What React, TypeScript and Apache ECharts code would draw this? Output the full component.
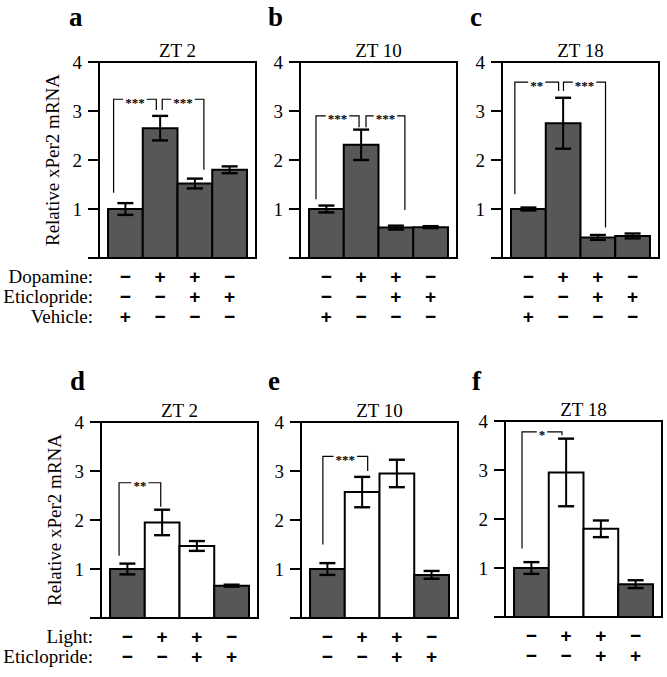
import React, { useEffect, useRef } from "react";
import * as echarts from "echarts";

// ---- data ----
const panelLetters = ["a", "b", "c", "d", "e", "f"];
const panelTitles = ["ZT 2", "ZT 10", "ZT 18", "ZT 2", "ZT 10", "ZT 18"];

const valuesA = [1.0, 2.65, 1.52, 1.8];
const errorsA = [0.12, 0.25, 0.1, 0.07];
const valuesB = [1.0, 2.31, 0.62, 0.63];
const errorsB = [0.07, 0.31, 0.04, 0.02];
const valuesC = [1.0, 2.75, 0.42, 0.45];
const errorsC = [0.03, 0.52, 0.05, 0.05];
const valuesD = [1.0, 1.95, 1.47, 0.66];
const errorsD = [0.11, 0.26, 0.1, 0.02];
const valuesE = [1.0, 2.57, 2.95, 0.88];
const errorsE = [0.12, 0.31, 0.28, 0.08];
const valuesF = [1.0, 2.95, 1.8, 0.67];
const errorsF = [0.12, 0.69, 0.17, 0.08];

// bar fill kinds: "dark" or "open"
const fillsTop = ["dark", "dark", "dark", "dark"];
const fillsBottom = ["dark", "open", "open", "dark"];

// treatment rows
const topRowNames = ["Dopamine:", "Eticlopride:", "Vehicle:"];
const dopamine = ["−", "+", "+", "−"];
const eticlopride = ["−", "−", "+", "+"];
const vehicle = ["+", "−", "−", "−"];
const bottomRowNames = ["Light:", "Eticlopride:"];
const light = ["−", "+", "+", "−"];
const eticlopride2 = ["−", "−", "+", "+"];

// significance brackets: [x left leg, left leg bottom, x right leg, right leg bottom, top]
const bracketsA = [[-0.34, 1.33, 0.89, 3.02, 3.24], [1.06, 3.02, 2.26, 1.8, 3.24]];
const bracketLabelsA = ["***", "***"];
const bracketsB = [[-0.3, 1.2, 0.94, 2.67, 2.9], [1.14, 2.67, 2.26, 0.98, 2.9]];
const bracketLabelsB = ["***", "***"];
const bracketsC = [[-0.39, 1.3, 0.87, 3.41, 3.59], [1.01, 3.41, 2.22, 0.62, 3.59]];
const bracketLabelsC = ["**", "***"];
const bracketsD = [[-0.24, 1.27, 0.96, 2.27, 2.76]];
const bracketLabelsD = ["**"];
const bracketsE = [[-0.13, 1.5, 1.16, 3.0, 3.3]];
const bracketLabelsE = ["***"];
const bracketsF = [[-0.27, 1.4, 0.88, 3.71, 3.78]];
const bracketLabelsF = ["*"];

const yTicks = [0, 4, 1]; // min, max, interval

// ---- layout ----
const GRID_W = 157;
const GRID_H = 196;
const gridLefts = [99, 300, 502, 101, 301, 505];
const gridTops = [62, 62, 62, 422, 422, 421];
const SERIF = '"Liberation Serif", "Times New Roman", serif';

export default function App() {
  const ref = useRef<HTMLDivElement>(null);

  useEffect(() => {
    if (!ref.current) return;
    const chart = echarts.init(ref.current, null, { renderer: "svg" });

    const panelValues = [valuesA, valuesB, valuesC, valuesD, valuesE, valuesF];
    const panelErrors = [errorsA, errorsB, errorsC, errorsD, errorsE, errorsF];
    const panelBrackets = [bracketsA, bracketsB, bracketsC, bracketsD, bracketsE, bracketsF];
    const panelBracketLabels = [
      bracketLabelsA, bracketLabelsB, bracketLabelsC,
      bracketLabelsD, bracketLabelsE, bracketLabelsF,
    ];
    const topRows = [dopamine, eticlopride, vehicle];
    const bottomRows = [light, eticlopride2];

    const grids: any[] = [];
    const xAxes: any[] = [];
    const yAxes: any[] = [];
    const series: any[] = [];

    for (let k = 0; k < 6; k++) {
      const isTop = k < 3;
      grids.push({
        left: gridLefts[k],
        top: gridTops[k],
        width: GRID_W,
        height: GRID_H,
        show: true,
        borderColor: "#000",
        borderWidth: 2,
        backgroundColor: "transparent",
        containLabel: false,
        outerBoundsMode: "none",
      });
      xAxes.push({
        gridIndex: k,
        type: "value",
        min: -0.76,
        max: 3.76,
        position: "top",
        axisLine: { show: false, onZero: false },
        axisTick: { show: false },
        axisLabel: { show: false },
        splitLine: { show: false },
        name: panelTitles[k],
        nameLocation: "middle",
        nameGap: 2,
        nameTextStyle: { fontSize: 19, fontFamily: SERIF, color: "#000" },
      });
      yAxes.push({
        gridIndex: k,
        type: "value",
        min: yTicks[0],
        max: yTicks[1],
        interval: yTicks[2],
        position: "left",
        axisLine: { show: true, onZero: false, lineStyle: { color: "#000", width: 2 } },
        axisTick: { show: true, length: 11, lineStyle: { color: "#000", width: 2 } },
        axisLabel: {
          color: "#000",
          fontSize: 19,
          fontFamily: SERIF,
          margin: 17,
          formatter: (v: number) => (v === 0 ? "" : String(v)),
        },
        splitLine: { show: false },
        name: k === 0 || k === 3 ? "Relative xPer2 mRNA" : "",
        nameLocation: "middle",
        nameGap: 37,
        nameTextStyle: { fontSize: 19, fontFamily: SERIF, color: "#000" },
      });

      const fills = isTop ? fillsTop : fillsBottom;
      const rows = isTop ? topRows : bottomRows;
      const vals = panelValues[k];
      const errs = panelErrors[k];

      series.push({
        type: "custom",
        xAxisIndex: k,
        yAxisIndex: k,
        clip: false,
        data: vals.map((v, i) => [i, v, errs[i]]),
        encode: { x: 0, y: 1 },
        renderItem: (params: any, api: any) => {
          const i = api.value(0);
          const v = api.value(1);
          const e = api.value(2);
          const bl = api.coord([i - 0.5, 0]);
          const tr = api.coord([i + 0.5, v]);
          const et = api.coord([i, v + e]);
          const eb = api.coord([i, Math.max(v - e, 0)]);
          const cx = et[0];
          const fill = fills[i] === "dark" ? "#575757" : "#ffffff";
          const children: any[] = [
            {
              type: "rect",
              shape: { x: bl[0], y: tr[1], width: tr[0] - bl[0], height: bl[1] - tr[1] },
              style: { fill, stroke: "#000", lineWidth: 2 },
            },
            {
              type: "line",
              shape: { x1: cx, y1: et[1], x2: cx, y2: eb[1] },
              style: { stroke: "#000", lineWidth: 2 },
            },
            {
              type: "line",
              shape: { x1: cx - 8, y1: et[1], x2: cx + 8, y2: et[1] },
              style: { stroke: "#000", lineWidth: 2.4 },
            },
            {
              type: "line",
              shape: { x1: cx - 8, y1: eb[1], x2: cx + 8, y2: eb[1] },
              style: { stroke: "#000", lineWidth: 2.4 },
            },
          ];
          rows.forEach((row, r) => {
            children.push({
              type: "text",
              x: cx,
              y: bl[1] + 18.5 + 20 * r,
              style: {
                text: row[i],
                fill: "#000",
                fontSize: 19,
                fontWeight: "bold",
                fontFamily: '"Liberation Sans", Arial, sans-serif',
                lineHeight: 16,
                align: "center",
                verticalAlign: "middle",
              },
            });
          });
          return { type: "group", children };
        },
      });

      const labels = panelBracketLabels[k];
      series.push({
        type: "custom",
        xAxisIndex: k,
        yAxisIndex: k,
        clip: false,
        data: panelBrackets[k],
        encode: { x: [0, 2], y: [1, 3, 4] },
        renderItem: (params: any, api: any) => {
          const x1 = api.value(0);
          const y1 = api.value(1);
          const x2 = api.value(2);
          const y2 = api.value(3);
          const yt = api.value(4);
          const p1 = api.coord([x1, y1]);
          const p2 = api.coord([x1, yt]);
          const p3 = api.coord([x2, yt]);
          const p4 = api.coord([x2, y2]);
          return {
            type: "group",
            children: [
              {
                type: "polyline",
                shape: { points: [p1, p2, p3, p4] },
                style: { stroke: "#000", lineWidth: 1.2, fill: "none" },
              },
              {
                type: "text",
                x: (p2[0] + p3[0]) / 2,
                y: p2[1] + 3,
                style: {
                  text: labels[params.dataIndex],
                  fill: "#000",
                  fontSize: 13,
                  fontWeight: "bold",
                  fontFamily: SERIF,
                  lineHeight: 11,
                  align: "center",
                  verticalAlign: "middle",
                  backgroundColor: "#fff",
                  padding: [0, 2],
                },
              },
            ],
          };
        },
      });
    }

    const graphic: any[] = [];
    const letterPos = [
      [69, 27], [268, 27], [470, 27], [70, 391], [268, 391], [472, 391],
    ];
    panelLetters.forEach((l, k) => {
      graphic.push({
        type: "text",
        x: letterPos[k][0],
        y: letterPos[k][1],
        style: {
          text: l,
          fill: "#000",
          font: "bold 27px " + SERIF,
          align: "left",
          verticalAlign: "bottom",
          lineHeight: 20,
        },
      });
    });
    topRowNames.forEach((name, r) => {
      graphic.push({
        type: "text",
        x: 93,
        y: gridTops[0] + GRID_H + 18.5 + 20 * r,
        style: {
          text: name,
          fill: "#000",
          font: "19px " + SERIF,
          lineHeight: 18,
          align: "right",
          verticalAlign: "middle",
        },
      });
    });
    bottomRowNames.forEach((name, r) => {
      graphic.push({
        type: "text",
        x: 93,
        y: gridTops[3] + GRID_H + 18.5 + 20 * r,
        style: {
          text: name,
          fill: "#000",
          font: "19px " + SERIF,
          lineHeight: 18,
          align: "right",
          verticalAlign: "middle",
        },
      });
    });

    chart.setOption({
      animation: false,
      backgroundColor: "#fff",
      grid: grids,
      xAxis: xAxes,
      yAxis: yAxes,
      series,
      graphic,
    });

    return () => chart.dispose();
  }, []);

  return (
    <div
      ref={ref}
      style={{ position: "absolute", left: 0, top: 0, width: 667, height: 677, background: "#fff" }}
    />
  );
}
